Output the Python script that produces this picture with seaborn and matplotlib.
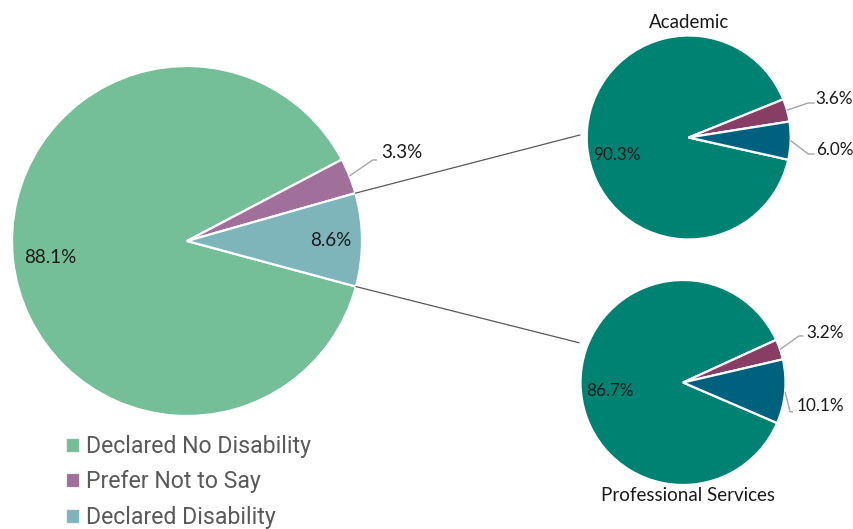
import numpy as np
import matplotlib
matplotlib.use("Agg")
import matplotlib.pyplot as plt
from matplotlib.patches import Patch, ConnectionPatch
import seaborn as sns

# ---------------- data ----------------
categories = ["Declared No Disability", "Prefer Not to Say", "Declared Disability"]
overall = [88.1, 3.3, 8.6]
academic = [90.3, 3.6, 6.0]
professional = [86.7, 3.2, 10.1]
sub_titles = ["Academic", "Professional Services"]

# ---------------- style ----------------
main_colors = ["#74BF98", "#A1709A", "#7EB5BB"]
sub_colors = ["#008272", "#883D64", "#00617F"]

sns.set_theme(style="white")
plt.rcParams["font.family"] = ["Lato", "DejaVu Sans"]

W, H = 854, 529
fig = plt.figure(figsize=(W / 100, H / 100), dpi=100)


def px_axes(cx, cy, r):
    return fig.add_axes([(cx - r) / W, 1 - (cy + r) / H, 2 * r / W, 2 * r / H])


ax_main = px_axes(187, 241, 175)
ax_acad = px_axes(688.7, 137.5, 102)
ax_prof = px_axes(683, 382.5, 102.5)

LBL_COLOR = "#1A1A1A"
LEADER = "#A6A6A6"
FS_MAIN = 13.5
FS_SUB = 12.3
FS_TITLE = 13.5


def draw_pie(ax, values, colors, start):
    wedges, _ = ax.pie(values, colors=colors, startangle=start, counterclock=False,
                       radius=1, frame=False,
                       wedgeprops=dict(edgecolor="white", linewidth=1.6))
    ax.set_xlim(-1, 1)
    ax.set_ylim(-1, 1)
    ax.set_aspect("auto")
    ax.axis("off")
    return wedges


def mid(w):
    return np.deg2rad((w.theta1 + w.theta2) / 2)


def inside_label(ax, w, value, r, fs, dang=0.0):
    a = mid(w) + np.deg2rad(dang)
    ax.text(r * np.cos(a), r * np.sin(a), f"{value:.1f}%", ha="center", va="center",
            fontsize=fs, color=LBL_COLOR)


def outside_label(ax, w, value, text_xy, elbow, end, fs):
    a = mid(w)
    ax.plot([np.cos(a), elbow[0], end[0]], [np.sin(a), elbow[1], end[1]],
            color=LEADER, lw=1.0, clip_on=False, solid_capstyle="butt")
    ax.text(text_xy[0], text_xy[1], f"{value:.1f}%", ha="left", va="center",
            fontsize=fs, color=LBL_COLOR)


# main pie
wm = draw_pie(ax_main, overall, main_colors, -15.1)
inside_label(ax_main, wm[0], overall[0], 0.79, FS_MAIN, 0.7)
outside_label(ax_main, wm[1], overall[1], (1.109, 0.503), (1.061, 0.463), (1.086, 0.463), FS_MAIN)
inside_label(ax_main, wm[2], overall[2], 0.823, FS_MAIN)

# academic pie
wa = draw_pie(ax_acad, academic, sub_colors, -12.6)
inside_label(ax_acad, wa[0], academic[0], 0.72, FS_SUB, 8.8)
outside_label(ax_acad, wa[1], academic[1], (1.245, 0.377), (1.17, 0.338), (1.235, 0.338), FS_SUB)
outside_label(ax_acad, wa[2], academic[2], (1.245, -0.123), (1.173, -0.162), (1.235, -0.162), FS_SUB)
ax_acad.text(0, 1.132, sub_titles[0], ha="center", va="center", fontsize=FS_TITLE, color=LBL_COLOR)

# professional services pie
wp = draw_pie(ax_prof, professional, sub_colors, -23.3)
inside_label(ax_prof, wp[0], professional[0], 0.72, FS_SUB, 5.6)
outside_label(ax_prof, wp[1], professional[1], (1.2, 0.483), (1.132, 0.454), (1.174, 0.454), FS_SUB)
outside_label(ax_prof, wp[2], professional[2], (1.112, -0.229), (1.044, -0.285), (1.073, -0.285), FS_SUB)
ax_prof.text(0.05, -1.104, sub_titles[1], ha="center", va="center", fontsize=FS_TITLE, color=LBL_COLOR)

# connector lines from the disability-related wedges of the main pie
dis = wm[2]
for ang, ax_b, xy_b in [(dis.theta2, ax_acad, (-1.066, 0.025)),
                        (dis.theta1, ax_prof, (-1.015, 0.388))]:
    a = np.deg2rad(ang)
    con = ConnectionPatch(xyA=(np.cos(a), np.sin(a)), coordsA=ax_main.transData,
                          xyB=xy_b, coordsB=ax_b.transData,
                          color="#595959", lw=0.9)
    fig.add_artist(con)

# legend
handles = [Patch(facecolor=c, edgecolor="#EEEEEE", linewidth=0.8) for c in main_colors]
leg = fig.legend(handles, categories, loc="upper left",
                 bbox_to_anchor=(66 / W, 1 - 435 / H), frameon=False,
                 borderpad=0, borderaxespad=0, handlelength=0.56, handleheight=0.56,
                 handletextpad=0.3, labelspacing=0.54,
                 prop={"family": ["Roboto", "DejaVu Sans"], "size": 16.6})
for t in leg.get_texts():
    t.set_color("#595959")

fig.savefig("out.png", dpi=100)
